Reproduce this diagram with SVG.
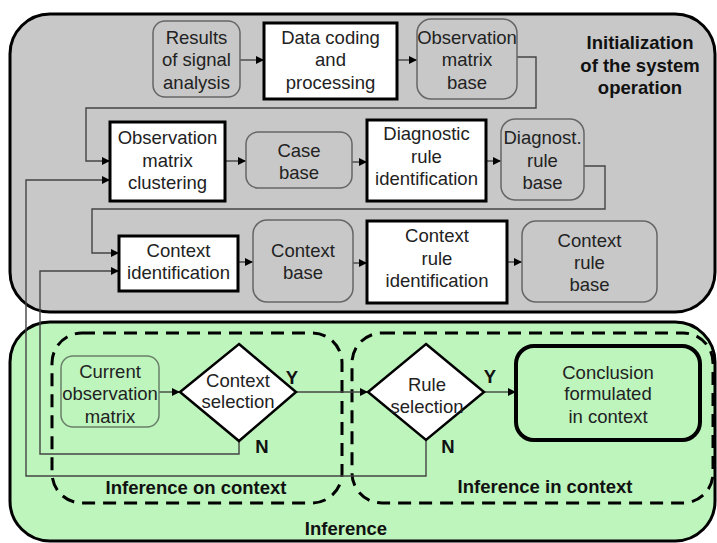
<svg xmlns="http://www.w3.org/2000/svg" width="717" height="543" viewBox="0 0 717 543">
<style>
text{font-family:"Liberation Sans",Arial,sans-serif;font-size:18.5px;fill:#222;text-anchor:middle}
.b{font-weight:bold;fill:#111}
.proc{fill:#fff;stroke:#000;stroke-width:3}
.store{fill:#c8c8c8;stroke:#666;stroke-width:1.5}
.gstore{fill:#bdf5bd;stroke:#6a7f6a;stroke-width:1.5}
.dec{fill:#fff;stroke:#000;stroke-width:2.5}
.con{fill:none;stroke:#444;stroke-width:1.4}
.dash{fill:none;stroke:#000;stroke-width:3;stroke-dasharray:13 8}
</style>
<defs>
<marker id="ah" markerUnits="userSpaceOnUse" markerWidth="9" markerHeight="9" refX="8" refY="4.5" orient="auto">
<path d="M0,0.5 L8,4.5 L0,8.5 z" fill="#000"/>
</marker>
</defs>
<rect width="717" height="543" fill="#fff"/>
<g id="panel-init">
<rect x="10" y="14" width="705" height="298" rx="40" fill="#c8c8c8" stroke="#000" stroke-width="3"/>
<text class="b" x="640" y="49">Initialization</text>
<text class="b" x="640" y="72">of the system</text>
<text class="b" x="640" y="94">operation</text>
</g>
<g id="panel-inference">
<rect x="10" y="322" width="705" height="219" rx="40" fill="#bdf5bd" stroke="#000" stroke-width="3"/>
<text class="b" x="346" y="535">Inference</text>
</g>
<g id="group-on-context">
<rect class="dash" x="52" y="333" width="290" height="170" rx="30"/>
<text class="b" x="196" y="494">Inference on context</text>
</g>
<g id="group-in-context">
<rect class="dash" x="352" y="333" width="361" height="170" rx="30"/>
<text class="b" x="545" y="493">Inference in context</text>
</g>
<g id="connectors">
<line class="con" x1="240" y1="60" x2="264" y2="60" marker-end="url(#ah)"/>
<line class="con" x1="397" y1="60" x2="417" y2="60" marker-end="url(#ah)"/>
<polyline class="con" points="517,57 536,57 536,108 86,108 86,161 110,161" marker-end="url(#ah)"/>
<line class="con" x1="225" y1="161" x2="246" y2="161" marker-end="url(#ah)"/>
<line class="con" x1="352" y1="162" x2="367" y2="162" marker-end="url(#ah)"/>
<line class="con" x1="486" y1="161" x2="501" y2="161" marker-end="url(#ah)"/>
<polyline class="con" points="584,166 605,166 605,209 92,209 92,253 119,253" marker-end="url(#ah)"/>
<line class="con" x1="238" y1="262" x2="253" y2="262" marker-end="url(#ah)"/>
<line class="con" x1="353" y1="263" x2="367" y2="263" marker-end="url(#ah)"/>
<line class="con" x1="507" y1="262" x2="522" y2="262" marker-end="url(#ah)"/>
<line class="con" x1="159" y1="392" x2="180" y2="392" marker-end="url(#ah)"/>
<line class="con" x1="296" y1="392" x2="368" y2="392" marker-end="url(#ah)"/>
<line class="con" x1="484" y1="392" x2="516" y2="392" marker-end="url(#ah)"/>
<polyline class="con" points="239,441 239,454 40,454 40,271 119,271" marker-end="url(#ah)"/>
<polyline class="con" points="426,440 426,476 26,476 26,180 110,180" marker-end="url(#ah)"/>
<text class="b" x="292" y="384">Y</text>
<text class="b" x="262" y="453">N</text>
<text class="b" x="490" y="383">Y</text>
<text class="b" x="448" y="453">N</text>
</g>
<g id="results-signal-analysis">
<rect class="store" x="153" y="21" width="87" height="76" rx="12"/>
<text x="196.5" y="44">Results</text><text x="196.5" y="66">of signal</text><text x="196.5" y="89">analysis</text>
</g>
<g id="data-coding">
<rect class="proc" x="264" y="23" width="133" height="76"/>
<text x="330.5" y="44">Data coding</text><text x="330.5" y="66">and</text><text x="330.5" y="89">processing</text>
</g>
<g id="observation-matrix-base">
<rect class="store" x="417" y="19" width="100" height="80" rx="14"/>
<text x="467" y="44">Observation</text><text x="467" y="66">matrix</text><text x="467" y="89">base</text>
</g>
<g id="observation-matrix-clustering">
<rect class="proc" x="110" y="122" width="115" height="79"/>
<text x="167.5" y="143.5">Observation</text><text x="167.5" y="166.5">matrix</text><text x="167.5" y="188.5">clustering</text>
</g>
<g id="case-base">
<rect class="store" x="246" y="132" width="106" height="56" rx="12"/>
<text x="299" y="156.5">Case</text><text x="299" y="178.5">base</text>
</g>
<g id="diagnostic-rule-identification">
<rect class="proc" x="367" y="120" width="119" height="81"/>
<text x="426.5" y="140">Diagnostic</text><text x="426.5" y="163">rule</text><text x="426.5" y="185">identification</text>
</g>
<g id="diagnost-rule-base">
<rect class="store" x="501" y="119" width="83" height="81" rx="14"/>
<text x="542.5" y="144">Diagnost.</text><text x="542.5" y="167">rule</text><text x="542.5" y="189">base</text>
</g>
<g id="context-identification">
<rect class="proc" x="119" y="236" width="119" height="55"/>
<text x="178.5" y="256.5">Context</text><text x="178.5" y="278.5">identification</text>
</g>
<g id="context-base">
<rect class="store" x="253" y="220" width="100" height="82" rx="14"/>
<text x="303" y="257">Context</text><text x="303" y="279">base</text>
</g>
<g id="context-rule-identification">
<rect class="proc" x="367" y="221" width="140" height="82"/>
<text x="437" y="241.5">Context</text><text x="437" y="264.5">rule</text><text x="437" y="286.5">identification</text>
</g>
<g id="context-rule-base">
<rect class="store" x="522" y="221" width="135" height="81" rx="14"/>
<text x="589.5" y="246.5">Context</text><text x="589.5" y="268.5">rule</text><text x="589.5" y="290.5">base</text>
</g>
<g id="current-observation-matrix">
<rect class="gstore" x="61" y="356" width="98" height="71" rx="12"/>
<text x="110" y="377.5">Current</text><text x="110" y="399.5">observation</text><text x="110" y="422.5">matrix</text>
</g>
<g id="context-selection">
<polygon class="dec" points="239,344 296,392 239,441 180,392"/>
<text x="238" y="386.5">Context</text><text x="238" y="407.5">selection</text>
</g>
<g id="rule-selection">
<polygon class="dec" points="426,344 484,392 426,440 368,392"/>
<text x="427" y="390.5">Rule</text><text x="427" y="412.5">selection</text>
</g>
<g id="conclusion">
<rect x="516" y="346" width="184" height="94" rx="18" fill="#bdf5bd" stroke="#000" stroke-width="4"/>
<text x="608" y="378.5">Conclusion</text><text x="608" y="399.5">formulated</text><text x="608" y="422.5">in context</text>
</g>
</svg>
